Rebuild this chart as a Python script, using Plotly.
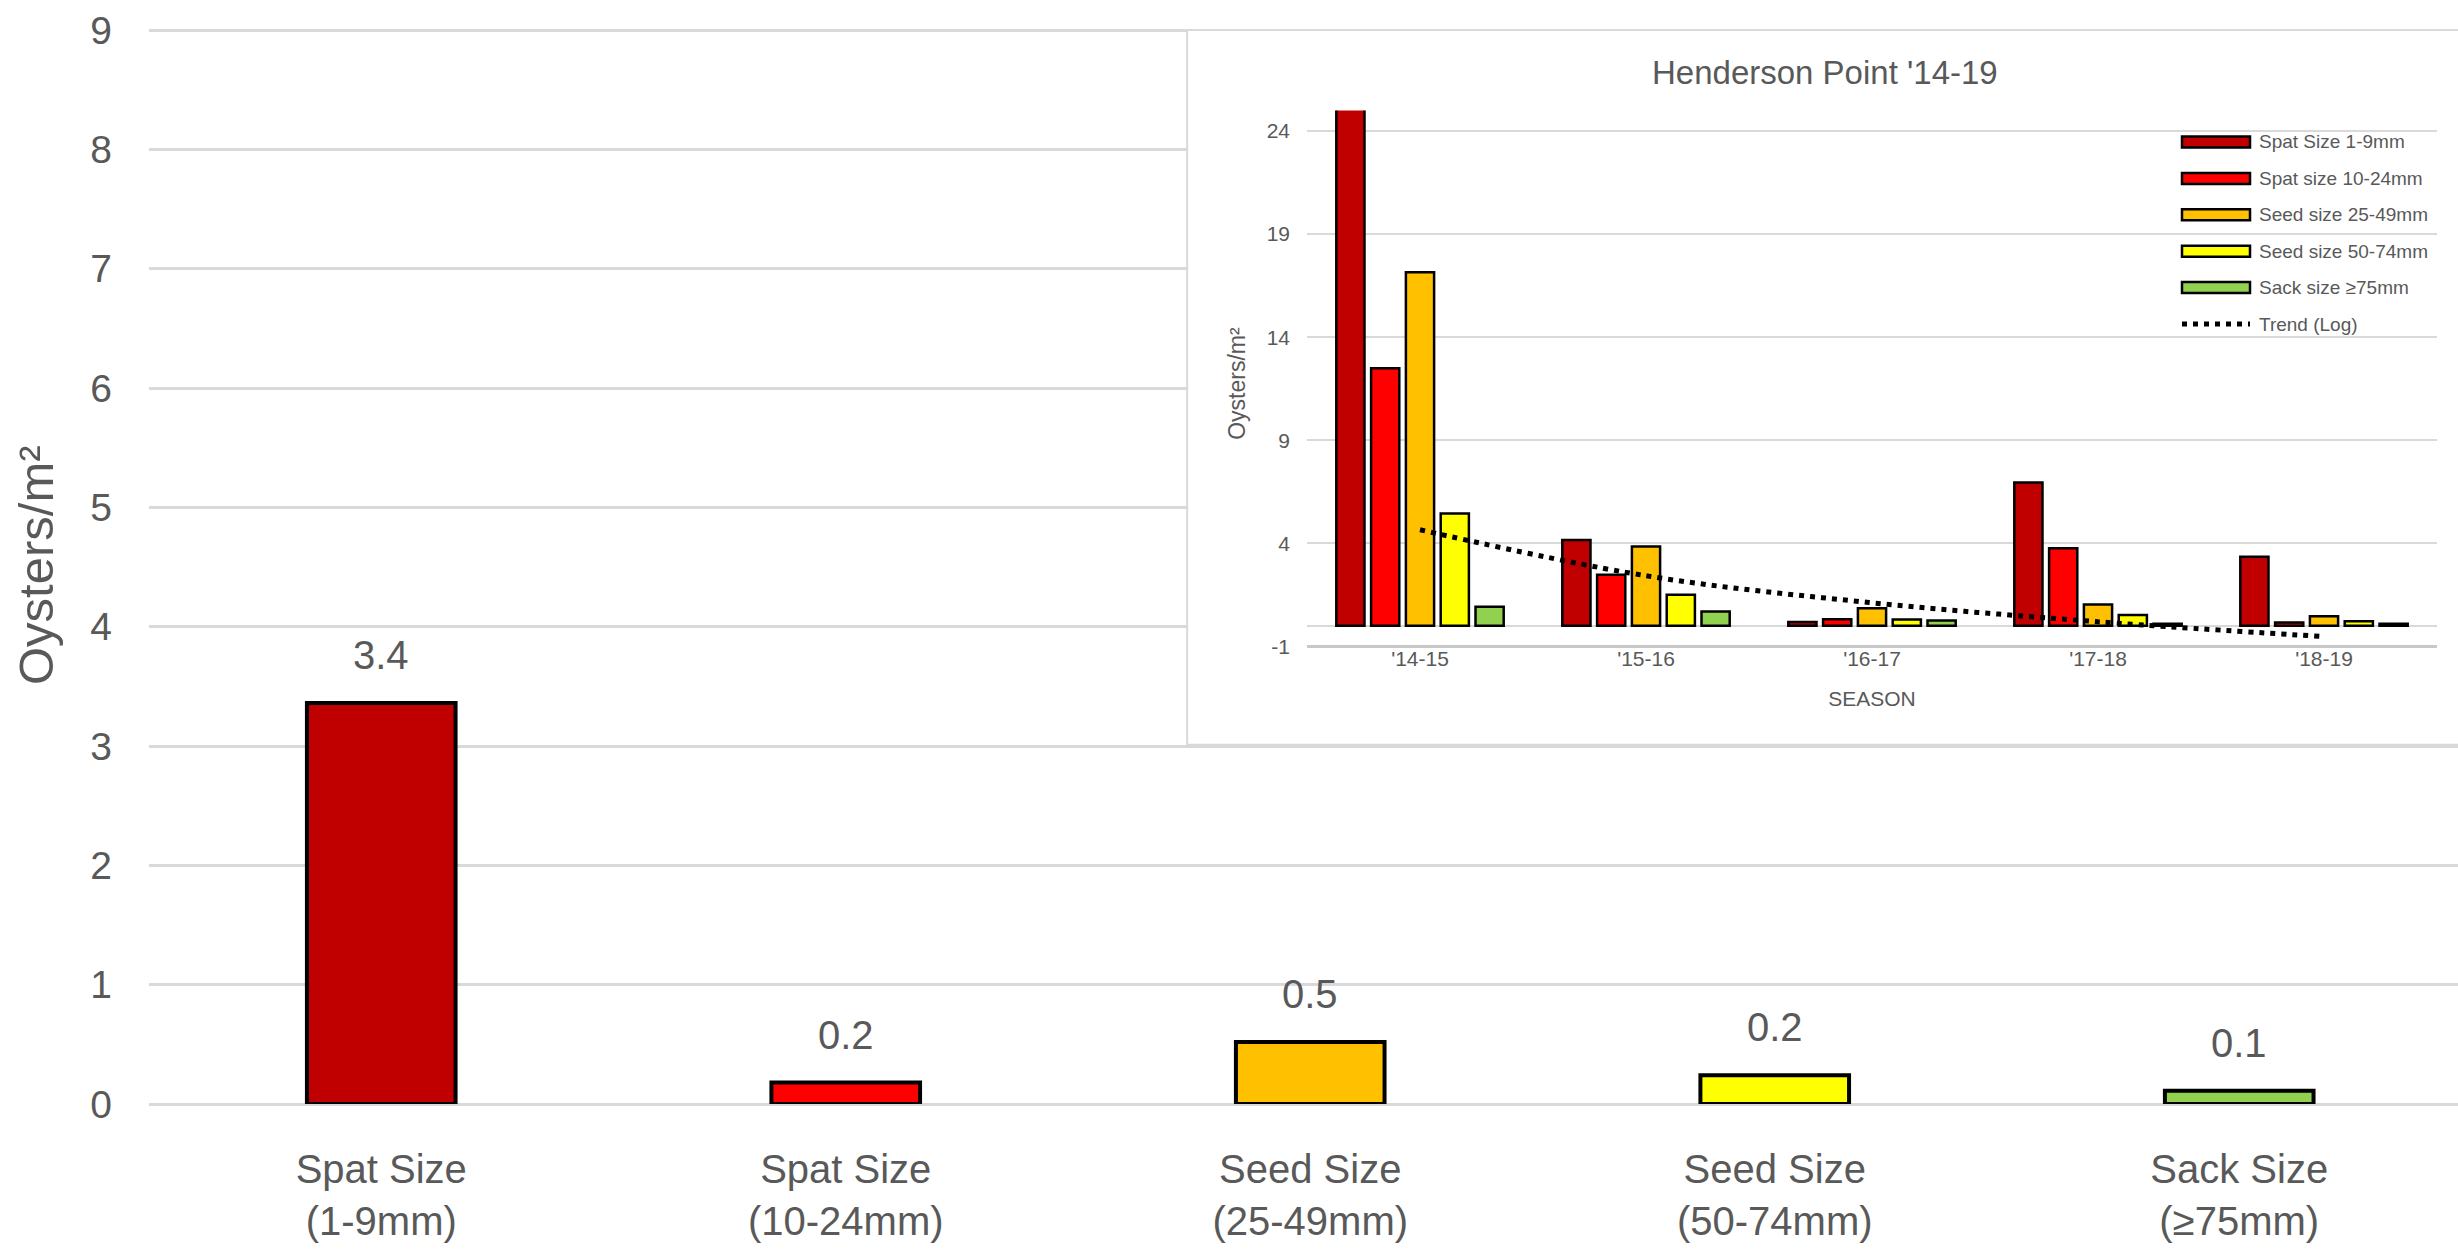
import plotly.graph_objects as go

# ---------------- data ----------------
main_categories = ["Spat Size<br>(1-9mm)", "Spat Size<br>(10-24mm)", "Seed Size<br>(25-49mm)",
                   "Seed Size<br>(50-74mm)", "Sack Size<br>(≥75mm)"]
main_values = [3.36, 0.18, 0.52, 0.24, 0.11]
size_colors = ["#C00000", "#FF0000", "#FFC000", "#FFFF00", "#92D050"]

seasons = ["'14-15", "'15-16", "'16-17", "'17-18", "'18-19"]
series_names = ["Spat Size 1-9mm", "Spat size 10-24mm", "Seed size 25-49mm",
                "Seed size 50-74mm", "Sack size ≥75mm"]
spat_1_9 = [25.2, 4.16, 0.19, 6.95, 3.35]
spat_10_24 = [12.5, 2.48, 0.32, 3.77, 0.16]
seed_25_49 = [17.15, 3.85, 0.86, 1.04, 0.47]
seed_50_74 = [5.45, 1.51, 0.31, 0.53, 0.23]
sack_75 = [0.93, 0.70, 0.26, 0.10, 0.10]
trend_log = [4.66, 2.43, 1.12, 0.20, -0.52]
trend_name = "Trend (Log)"

inset_series = [spat_1_9, spat_10_24, seed_25_49, seed_50_74, sack_75]
main_yticks = list(range(0, 10))
inset_yticks = [-1, 4, 9, 14, 19, 24]
inset_yticktext = ["-1", "4", "9", "14", "19", "24"]

# ---------------- geometry helpers ----------------
W, H = 2458, 1251
ML, MR, MT, MB = 149, 0, 28, 147
PW, PH = W - ML - MR, H - MT - MB


def px(xp):
    return (xp - ML) / PW


def py(yp):
    return (H - MB - yp) / PH


FONT = "Liberation Sans, Arial, sans-serif"
GRAY = "#595959"
GRID = "#D9D9D9"

fig = go.Figure()

# main bars
fig.add_trace(go.Bar(
    x=main_categories, y=main_values, width=0.32,
    marker=dict(color=size_colors, line=dict(color="black", width=4)),
    xaxis="x", yaxis="y", showlegend=False, hoverinfo="x+y",
))

# inset bars
for name, vals, col in zip(series_names, inset_series, size_colors):
    fig.add_trace(go.Bar(
        x=seasons, y=vals, name=name,
        marker=dict(color=col, line=dict(color="black", width=2.5)),
        xaxis="x2", yaxis="y2", showlegend=False,
    ))

# trend
fig.add_trace(go.Scatter(
    x=seasons, y=trend_log, mode="lines", name=trend_name,
    line=dict(color="black", width=5, dash="5px,6px", shape="spline"),
    xaxis="x2", yaxis="y2", showlegend=False,
))

annotations = []
# data labels
for c, v in zip(main_categories, main_values):
    annotations.append(dict(
        x=c, y=v, xref="x", yref="y", text=f"{v:.1f}", showarrow=False,
        yanchor="middle", yshift=48, font=dict(family=FONT, size=40, color=GRAY),
    ))

# main y title
annotations.append(dict(
    x=px(36), y=py(565), xref="paper", yref="paper", text="Oysters/m²",
    textangle=-90, showarrow=False, xanchor="center", yanchor="middle",
    font=dict(family=FONT, size=49, color=GRAY),
))

# inset title
annotations.append(dict(
    x=px(1825), y=py(72), xref="paper", yref="paper", text="Henderson Point '14-19",
    showarrow=False, xanchor="center", yanchor="middle",
    font=dict(family=FONT, size=33, color=GRAY),
))

shapes = []
# inset frame (hides main gridlines behind it)
shapes.append(dict(
    type="rect", xref="x", yref="y", x0=1.735, x1=4.6, y0=3.01, y1=9.0,
    fillcolor="white", line=dict(color=GRID, width=2), layer="between",
))
# lowest inset gridline (at the axis minimum tick)
shapes.append(dict(
    type="line", xref="x2 domain", yref="y2", x0=0, x1=1,
    y0=inset_yticks[0], y1=inset_yticks[0],
    line=dict(color="#C8C8C8", width=3), layer="above",
))

# custom legend
leg_top, leg_step = 142, 36.4
mk_x0, mk_x1, txt_x = 2182, 2250, 2257
for i, (name, col) in enumerate(zip(series_names, size_colors)):
    yc = leg_top + i * leg_step
    shapes.append(dict(
        type="rect", xref="paper", yref="paper",
        x0=px(mk_x0), x1=px(mk_x1), y0=py(yc + 5.5), y1=py(yc - 5.5),
        fillcolor=col, line=dict(color="black", width=2.5), layer="above",
    ))
    annotations.append(dict(
        x=px(txt_x), y=py(yc), xref="paper", yref="paper", text=name,
        showarrow=False, xanchor="left", yanchor="middle",
        font=dict(family=FONT, size=19, color=GRAY),
    ))
yc = leg_top + 5 * leg_step
shapes.append(dict(
    type="line", xref="paper", yref="paper",
    x0=px(mk_x0), x1=px(mk_x1), y0=py(yc), y1=py(yc),
    line=dict(color="black", width=5, dash="5px,6px"), layer="above",
))
annotations.append(dict(
    x=px(txt_x), y=py(yc), xref="paper", yref="paper", text=trend_name,
    showarrow=False, xanchor="left", yanchor="middle",
    font=dict(family=FONT, size=19, color=GRAY),
))

fig.update_layout(
    width=W, height=H,
    margin=dict(l=ML, r=MR, t=MT, b=MB, pad=0),
    paper_bgcolor="white", plot_bgcolor="white",
    barmode="group", bargap=0.23, bargroupgap=0.19,
    font=dict(family=FONT, color=GRAY),
    showlegend=False,
    xaxis=dict(
        type="category", domain=[0, 1], range=[-0.5, 4.471], anchor="y",
        showgrid=False, showline=False, zeroline=False, ticks="",
        tickfont=dict(family=FONT, size=40, color=GRAY), ticklabelstandoff=38,
    ),
    yaxis=dict(
        domain=[0, 1], range=[0, 9.017], anchor="x", tickvals=main_yticks,
        showgrid=True, gridcolor=GRID, gridwidth=3,
        zeroline=True, zerolinecolor=GRID, zerolinewidth=3, showline=False,
        ticks="", tickfont=dict(family=FONT, size=39, color=GRAY), ticklabelstandoff=36,
    ),
    xaxis2=dict(
        type="category", domain=[px(1307), px(2437)], range=[-0.5, 4.5], anchor="y2",
        showgrid=False, showline=False, zeroline=False, ticks="",
        tickfont=dict(family=FONT, size=21, color=GRAY), ticklabelstandoff=-13,
        title=dict(text="SEASON", font=dict(family=FONT, size=21, color=GRAY), standoff=22),
    ),
    yaxis2=dict(
        domain=[py(656.8), py(110.4)], range=[-1.5, 25], anchor="x2",
        tickvals=inset_yticks, ticktext=inset_yticktext,
        showgrid=True, gridcolor=GRID, gridwidth=2,
        zeroline=True, zerolinecolor=GRID, zerolinewidth=2, showline=False,
        ticks="", tickfont=dict(family=FONT, size=21, color=GRAY), ticklabelstandoff=16,
        title=dict(text="Oysters/m²", font=dict(family=FONT, size=23, color=GRAY), standoff=14),
    ),
    annotations=annotations,
    shapes=shapes,
)

fig.write_html("out.html", config={"displayModeBar": False},
               post_script="document.body.style.margin='0';")
